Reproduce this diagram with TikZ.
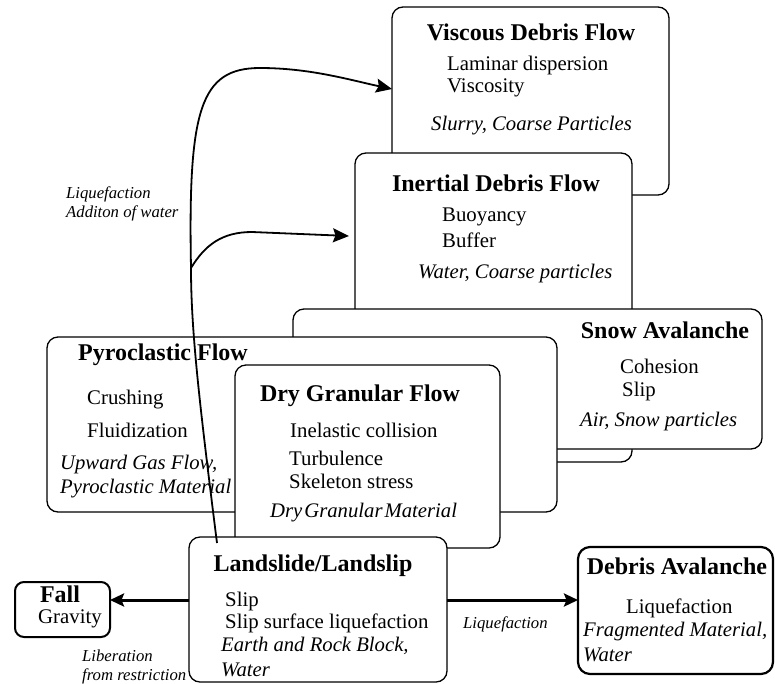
\documentclass[tikz,border=0pt]{standalone}
\usepackage{fontspec}
\setmainfont{Liberation Serif}
\usetikzlibrary{arrows.meta}
\begin{document}
\begin{tikzpicture}[x=1pt,y=-1pt,
 box/.style={draw, line width=1.3pt, rounded corners=11pt, fill=white, inner sep=0pt, outer sep=0pt},
 ttl/.style={font=\fontsize{24}{28}\selectfont\bfseries, inner sep=0pt},
 txt/.style={font=\fontsize{20.8}{24}\selectfont, inner sep=0pt, anchor=west},
 itx/.style={font=\fontsize{20.7}{24}\selectfont\itshape, inner sep=0pt, anchor=west},
 lbl/.style={font=\fontsize{16.7}{20}\selectfont\itshape, inner sep=0pt, anchor=west},
 arr/.style={-{Stealth[length=16pt,width=14pt,inset=2.5pt]}, line width=1.8pt},
 harr/.style={-{Stealth[length=14pt,width=13pt,inset=2.5pt]}, line width=3pt}]
\useasboundingbox (0,0) rectangle (775,683);

% Viscous Debris Flow
\node[box, minimum width=277pt, minimum height=188pt] (viscous) at (530.5,101) {};
\node[ttl] (vt) at (531,32) {Viscous Debris Flow};
\node[txt] (v1) at (447,65) {Laminar dispersion};
\node[txt] (v2) at (447,88) {Viscosity};
\node[itx] (v3) at (431,126) {Slurry, Coarse Particles};

% Inertial Debris Flow
\node[box, minimum width=277pt, minimum height=309pt] (inertial) at (493.5,307.5) {};
\node[ttl] (it) at (496,183) {Inertial Debris Flow};
\node[txt] (i1) at (442,217) {Buoyancy};
\node[txt] (i2) at (442,240) {Buffer};
\node[itx] (i3) at (418,274) {Water, Coarse particles};

% Snow Avalanche
\node[box, minimum width=469pt, minimum height=140pt] (snow) at (527.5,379) {};
\node[ttl] (st) at (665,330) {Snow Avalanche};
\node[txt] (s1) at (620,366) {Cohesion};
\node[txt] (s2) at (622,391) {Slip};
\node[itx] (s3) at (580,422) {Air, Snow particles};

% Pyroclastic Flow
\node[box, minimum width=510pt, minimum height=175pt] (pyro) at (302,424.5) {};
\node[ttl] (pt) at (163,355) {Pyroclastic Flow};
\node[txt] (p1) at (87,400) {Crushing};
\node[txt] (p2) at (87,430) {Fluidization};
\node[itx] (p3) at (60,465) {Upward Gas Flow,};
\node[itx] (p4) at (60,489) {Pyroclastic Material};

% Dry Granular Flow
\node[box, minimum width=265pt, minimum height=183pt] (dry) at (367.5,456.5) {};
\node[ttl] (dt) at (360,396) {Dry Granular Flow};
\node[txt] (d1) at (290,430) {Inelastic collision};
\node[txt] (d2) at (289,458) {Turbulence};
\node[txt] (d3) at (289,481) {Skeleton stress};
\node[itx] (d4) at (270,513) {{\spaceskip=2pt Dry Granular Material}};

% Landslide/Landslip
\node[box, minimum width=258pt, minimum height=145pt] (land) at (318,609.5) {};
\node[ttl] (lt) at (313,566) {Landslide/Landslip};
\node[txt] (l1) at (225,601) {Slip};
\node[txt] (l2) at (225,623) {Slip surface liquefaction};
\node[itx] (l3) at (221,646) {Earth and Rock Block,};
\node[itx] (l4) at (221,670) {Water};

% Fall
\node[box, line width=2pt, rounded corners=9pt, minimum width=95pt, minimum height=55pt] (fall) at (62.5,609.5) {};
\node[ttl] (ft) at (60,594) {Fall};
\node[txt] (f1) at (38,619) {Gravity};

% Debris Avalanche
\node[box, line width=2.2pt, rounded corners=12pt, minimum width=195pt, minimum height=127pt] (debris) at (675.5,610.5) {};
\node[ttl] (dat) at (677,566) {Debris Avalanche};
\node[txt] (da1) at (626,608) {Liquefaction};
\node[itx] (da2) at (583,632) {Fragmented Material,};
\node[itx] (da3) at (583,655) {Water};

% labels
\node[lbl] (q1) at (66,194) {Liquefaction};
\node[lbl] (q2) at (66,213) {Additon of water};
\node[lbl] (r1) at (82,656) {Liberation};
\node[lbl] (r2) at (82,676) {from restriction};
\node[lbl] (q3) at (463,624) {Liquefaction};

% connectors
\draw[harr] ([yshift=9.5pt]land.west) -- ([yshift=9.5pt]fall.east);
\draw[harr] ([yshift=9.5pt]land.east) -- ([yshift=10.5pt]debris.west);
\coordinate (split) at (191,268);
\draw[arr] ([xshift=28pt,yshift=-6pt]land.north west) .. controls (199,400) and (191,330) .. (split)
  .. controls (188,110) and (200,68) .. (260,68)
  .. controls (310,68) and (350,80) .. ([yshift=12pt]viscous.west);
\draw[arr] (split) .. controls (205,245) and (222,232) .. (252,232) -- ([xshift=-6pt,yshift=71.5pt]inertial.west);
\end{tikzpicture}
\end{document}
